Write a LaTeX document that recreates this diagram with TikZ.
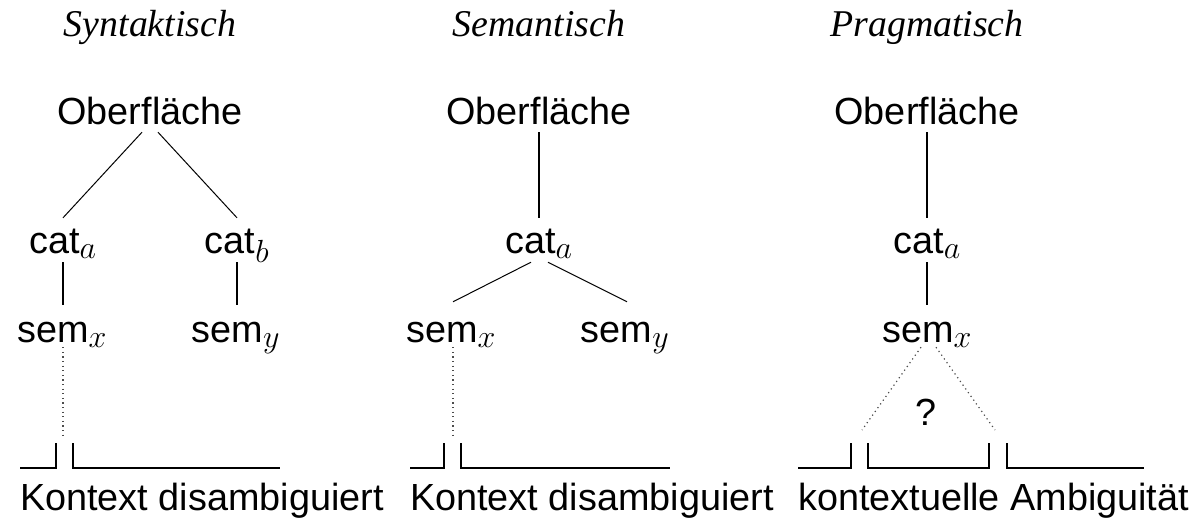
\documentclass[tikz,border=0pt]{standalone}
\usepackage{fix-cm}
\usepackage{fontspec}
\setmainfont{Liberation Sans}
\newfontfamily\titlefont{Liberation Serif}
\DeclareMathSizes{37.8}{37.8}{32}{24}
\usetikzlibrary{calc, positioning}

\begin{document}
\begin{tikzpicture}[x=1pt, y=-1pt, font=\fontsize{37.8pt}{45pt}\selectfont]
        \useasboundingbox (0, 0) rectangle (1198, 520);

        \coordinate (S) at (150, 0);
        \coordinate (M) at (539, 0);
        \coordinate (P) at (927, 0);

        \tikzstyle{w} = [inner sep=0, anchor=base];
        \tikzstyle{h} = [w, font=\titlefont\itshape\fontsize{37.8pt}{45pt}\selectfont];
        \tikzstyle{r} = [w, text depth=8pt];
        \tikzstyle{k} = [w, text height=35pt, text depth=9pt];
        \tikzstyle{s} = [w, text height=37pt, text depth=5pt];
        \tikzstyle{ln} = [draw, line width=1pt];
        \tikzstyle{tk} = [draw, line width=2.3pt];
        \tikzstyle{dt} = [draw, line width=1.2pt, color=black!70, dash pattern=on 1.2pt off 3.4pt];
        \tikzstyle{br} = [draw, line width=2.2pt];

        % titles and roots
        \foreach \col/\name/\ttl in {S/1/Syntaktisch, M/2/Semantisch, P/3/Pragmatisch}{
            \node [h] (h\name) at ($(\col) + (0, 36)$) {\ttl};
            \node [r] (o\name) at ($(\col) + (0, 124)$) {Oberfläche};
        }

        % syntaktisch
        \node [k] (ca1) at ($(S) + (-87, 253)$) {cat$_a$};
        \node [k] (cb1) at ($(S) + ( 87, 253)$) {cat$_b$};
        \node [s] (sx1) at ($(ca1.base) + (-1, 89)$) {sem$_x$};
        \node [s] (sy1) at ($(cb1.base) + (-1, 89)$) {sem$_y$};
        \coordinate (d1) at ($(sx1.south) + (1, 88)$);

        \draw [ln] ([xshift=-8pt]o1.south) -- (ca1.north);
        \draw [ln] ([xshift= 8pt]o1.south) -- (cb1.north);
        \draw [tk] (ca1.south) -- (ca1.south |- sx1.north);
        \draw [tk] (cb1.south) -- (cb1.south |- sy1.north);
        \draw [dt] (sx1.south -| d1) -- (d1);

        % semantisch
        \node [k] (ca2) at ($(M) + (0, 253)$) {cat$_a$};
        \node [s] (sx2) at ($(M) + (-88, 342)$) {sem$_x$};
        \node [s] (sy2) at ($(M) + ( 86, 342)$) {sem$_y$};
        \coordinate (d2) at ($(sx2.south) + (2, 88)$);

        \draw [tk] (o2.south) -- (ca2.north);
        \draw [ln] ([xshift=-8pt]ca2.south) -- ([shift={(2pt, 3pt)}]sx2.north);
        \draw [ln] ([xshift= 9pt]ca2.south) -- ([shift={(2pt, 3pt)}]sy2.north);
        \draw [dt] (sx2.south -| d2) -- (d2);

        % pragmatisch
        \node [k] (ca3) at ($(P) + (0, 253)$) {cat$_a$};
        \node [s] (sx3) at ($(P) + (0, 342)$) {sem$_x$};
        \node [w] (q3) at ($(P) + (-1, 425)$) {?};
        \coordinate (dl3) at ($(P) + (-65, 430)$);
        \coordinate (dr3) at ($(P) + ( 68, 430)$);

        \draw [tk] (o3.south) -- (ca3.north);
        \draw [tk] (ca3.south) -- (sx3.north);
        \draw [dt] ([xshift=-6pt]sx3.south) -- (dl3);
        \draw [dt] ([xshift= 9pt]sx3.south) -- (dr3);

        % brackets
        \draw [br] (20, 468) -| (56, 443);
        \draw [br] (73, 443) |- (280, 468);
        \draw [br] (410, 468) -| (444, 443);
        \draw [br] (461, 443) |- (670, 468);
        \draw [br] (798, 468) -| (851, 443);
        \draw [br] (868, 443) |- (989, 468) -- (989, 443);
        \draw [br] (1007, 443) |- (1144, 468);

        \node [w, anchor=base west] (b1) at (20, 510) {Kontext disambiguiert};
        \node [w, anchor=base west] (b2) at (410, 510) {Kontext disambiguiert};
        \node [w, anchor=base west] (b3) at (798, 510) {kontextuelle Ambiguität};
    \end{tikzpicture}
\end{document}
